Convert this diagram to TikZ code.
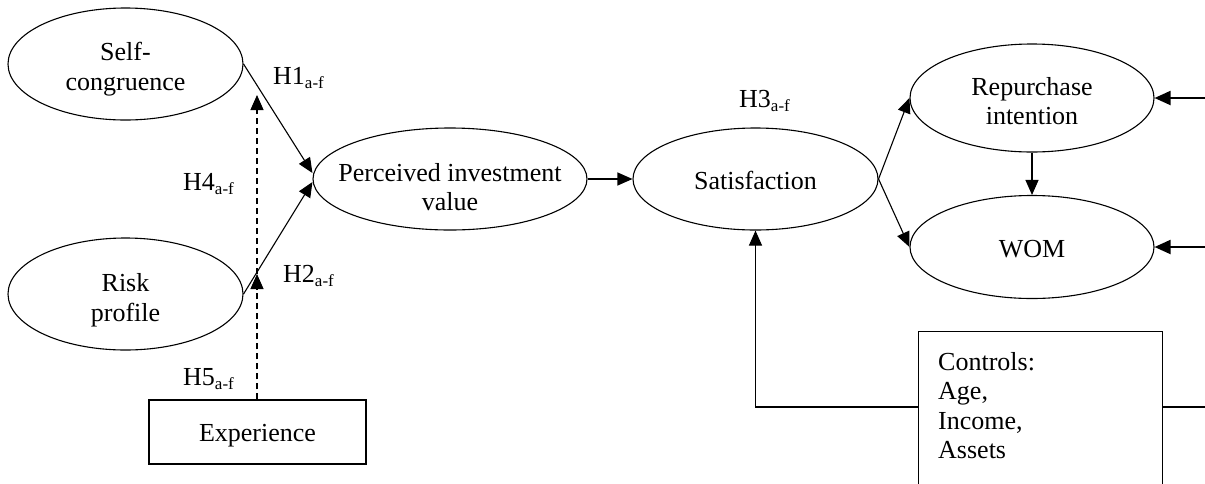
\documentclass[tikz,border=0pt]{standalone}
\usepackage{fontspec}
\setmainfont{Liberation Serif}
\usetikzlibrary{shapes.geometric,arrows.meta}
\newcommand\hsub[1]{\raisebox{-4.5pt}{\fontsize{17}{17}\selectfont #1}}
\begin{document}
\begin{tikzpicture}[x=1pt,y=-1pt,
  every node/.style={font=\fontsize{26}{29.5}\selectfont},
  oval/.style={ellipse, draw, line width=1.1pt, inner sep=0pt},
  txt/.style={align=center, inner sep=0pt},
  boxnode/.style={rectangle, draw, line width=1.1pt, inner sep=0pt},
  conn/.style={line width=1.1pt, -{Triangle[length=15pt,width=13pt]}},
  thickconn/.style={line width=2pt, -{Triangle[length=16pt,width=14pt]}},
  dconn/.style={line width=1.1pt, dashed, dash pattern=on 6pt off 4pt, -{Triangle[length=15pt,width=13pt]}},
  hlabel/.style={anchor=base west, inner sep=0pt}]
\useasboundingbox (0,0) rectangle (1205,483);
\node[oval, minimum width=235pt, minimum height=112pt] (sc) at (125.5,64) {};
\node[txt] (sct) at ([yshift=-5pt]sc.center) {Self-\\congruence};
\node[oval, minimum width=235pt, minimum height=112pt] (rp) at (125.5,294) {};
\node[txt] (rpt) at ([yshift=-6pt]rp.center) {Risk\\profile};
\node[oval, minimum width=274pt, minimum height=102pt] (piv) at (450,179) {};
\node[txt] (pivt) at ([yshift=-8pt]piv.center) {Perceived investment\\value};
\node[oval, minimum width=245pt, minimum height=102pt] (sat) at (755.5,179) {};
\node[txt] (satt) at ([yshift=-1pt]sat.center) {Satisfaction};
\node[oval, minimum width=244pt, minimum height=108pt] (rep) at (1032,98) {};
\node[txt] (rept) at ([yshift=-3pt]rep.center) {Repurchase\\intention};
\node[oval, minimum width=244pt, minimum height=103pt] (wom) at (1032,247) {};
\node[txt] (womt) at ([yshift=-2pt]wom.center) {WOM};
\node[boxnode, minimum width=217pt, minimum height=64pt] (exp) at (257.5,432) {};
\node[txt] (expt) at ([yshift=-4pt]exp.center) {Experience};
\node[boxnode, minimum width=244pt, minimum height=190pt, anchor=north west] (ctrl) at (918,331) {};
\node[anchor=north west, align=left, inner sep=0pt] (ctrltxt) at (938,352) {Controls:\\Age,\\Income,\\Assets};
% labels
\node[hlabel] (h1) at (273,84) {H1\hsub{a-f}};
\node[hlabel] (h4) at (183,190) {H4\hsub{a-f}};
\node[hlabel] (h2) at (283,282) {H2\hsub{a-f}};
\node[hlabel] (h5) at (183,385) {H5\hsub{a-f}};
\node[hlabel] (h3) at (739,107) {H3\hsub{a-f}};
% coordinates
\coordinate (mid) at (257,274);
\coordinate (top) at (257,95);
\coordinate (corner) at (755.5,407);
\coordinate (r1) at (1205,98);
\coordinate (r2) at (1205,247);
\coordinate (r3) at (1205,407);
% connectors
\draw[conn] (sc.east) -- ([yshift=6pt]piv.west);
\draw[conn] (rp.east) -- ([yshift=-3pt]piv.west);
\draw[dconn] (exp.north -| mid) -- (mid);
\draw[dconn] (mid) -- (top);
\draw[conn] (piv.east) -- (sat.west);
\draw[conn] (sat.east) -- (rep.west);
\draw[conn] (sat.east) -- (wom.west);
\draw[conn] (rep.south) -- (wom.north);
\draw[thickconn] (r1) -- (rep.east);
\draw[thickconn] (r2) -- (wom.east);
\draw[conn] (ctrl.west |- corner) -- (corner) -- (sat.south);
\draw[line width=1.1pt] (ctrl.east |- corner) -- (r3);
\end{tikzpicture}
\end{document}
